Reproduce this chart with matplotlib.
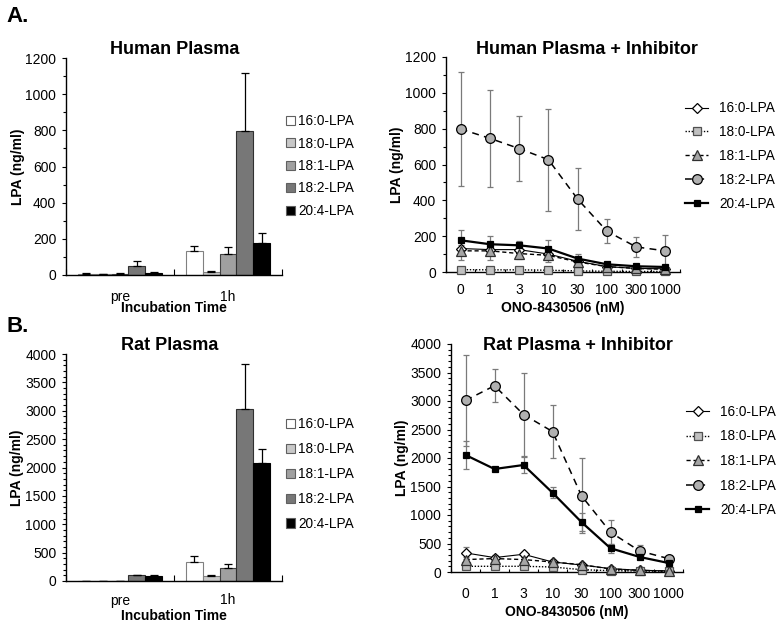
import matplotlib
matplotlib.use("Agg")
import matplotlib.pyplot as plt
from matplotlib.ticker import MultipleLocator, FixedLocator, NullFormatter
from matplotlib.lines import Line2D
from matplotlib.patches import Patch
import numpy as np

plt.rcParams['font.family'] = ['Liberation Sans', 'DejaVu Sans']

species = ['16:0-LPA', '18:0-LPA', '18:1-LPA', '18:2-LPA', '20:4-LPA']
time_labels = ['pre', '1h']
conc_labels = ['0', '1', '3', '10', '30', '100', '300', '1000']

# Bar charts: values [pre, 1h] per species
human_pre = [4, 3, 7, 50, 12]
human_pre_err = [5, 3, 3, 28, 4]
human_1h = [134, 16, 115, 798, 178]
human_1h_err = [29, 4, 42, 317, 53]

rat_pre = [3, 2, 3, 100, 88]
rat_pre_err = [2, 2, 2, 10, 15]
rat_1h = [340, 90, 230, 3036, 2074]
rat_1h_err = [100, 15, 70, 793, 247]

# Inhibitor curves
h16_0 = [131, 125, 125, 100, 60, 30, 20, 18]
h16_0_err = [20, 20, 20, 20, 15, 8, 5, 5]
h18_0 = [13, 12, 12, 10, 6, 4, 3, 3]
h18_0_err = [3, 2, 2, 2, 2, 1, 1, 1]
h18_1 = [118, 118, 103, 93, 56, 30, 20, 15]
h18_1_err = [49, 50, 30, 38, 20, 8, 5, 5]
h18_2 = [798, 746, 689, 627, 407, 228, 140, 118]
h18_2_err = [319, 272, 183, 284, 174, 66, 56, 87]
h20_4 = [177, 155, 149, 131, 75, 43, 32, 28]
h20_4_err = [56, 45, 25, 50, 28, 8, 6, 5]

r16_0 = [335, 253, 311, 176, 123, 59, 30, 20]
r16_0_err = [105, 40, 40, 30, 20, 10, 5, 5]
r18_0 = [100, 100, 100, 88, 41, 23, 18, 12]
r18_0_err = [20, 15, 15, 10, 5, 3, 3, 2]
r18_1 = [218, 236, 218, 176, 129, 53, 30, 15]
r18_1_err = [40, 40, 40, 30, 20, 10, 5, 5]
r18_2 = [3009, 3268, 2763, 2464, 1337, 699, 370, 235]
r18_2_err = [792, 285, 720, 465, 658, 205, 100, 30]
r20_4 = [2053, 1807, 1877, 1391, 875, 417, 264, 158]
r20_4_err = [250, 30, 140, 100, 160, 80, 30, 15]

W, H = 783, 627
fig = plt.figure(figsize=(W / 100, H / 100), dpi=100)


def add_ax(l, r, t, b):
    return fig.add_axes([l / W, 1 - b / H, (r - l) / W, (b - t) / H])


bar_colors = ['#ffffff', '#c8c8c8', '#a0a0a0', '#777777', '#000000']
bar_edges = ['#808080', '#808080', '#404040', '#303030', '#000000']

FS = 10
LFS = 9.8


def style_axes(ax, ymax, major, minor):
    for s in ['top', 'right']:
        ax.spines[s].set_visible(False)
    for s in ['left', 'bottom']:
        ax.spines[s].set_linewidth(1.0)
    ax.set_ylim(0, ymax)
    ax.yaxis.set_major_locator(MultipleLocator(major))
    ax.yaxis.set_minor_locator(MultipleLocator(minor))
    ax.tick_params(axis='y', which='major', direction='out', length=3, width=0.8,
                   labelsize=FS, pad=4)
    ax.tick_params(axis='y', which='minor', direction='out', length=2, width=0.8)


def bar_panel(ax, pre, pre_err, h1, h1_err, ymax, major, minor, title, tx, ty, legy, legsp,
              tpad, xlpad):
    n = len(species)
    w = 0.156
    x = np.arange(len(time_labels))
    for i in range(n):
        vals = [pre[i], h1[i]]
        errs = [pre_err[i], h1_err[i]]
        pos = x + (i - (n - 1) / 2) * w
        ax.bar(pos, vals, width=w, color=bar_colors[i], edgecolor=bar_edges[i],
               linewidth=0.8, label=species[i], zorder=2)
        ax.errorbar(pos, vals, yerr=[np.zeros(2), errs], fmt='none', ecolor='black',
                    elinewidth=0.9, capsize=3, capthick=0.9, zorder=3)
    ax.set_xlim(-0.5, 1.5)
    style_axes(ax, ymax, major, minor)
    ax.xaxis.set_major_locator(FixedLocator([-0.5, 0.5, 1.5]))
    ax.xaxis.set_major_formatter(NullFormatter())
    ax.xaxis.set_minor_locator(FixedLocator(x))
    ax.set_xticklabels(time_labels, minor=True)
    ax.tick_params(axis='x', which='major', direction='in', length=4, width=0.8)
    ax.tick_params(axis='x', which='minor', length=0, labelsize=FS, pad=tpad)
    ax.set_xlabel('Incubation Time', fontsize=FS, fontweight='bold', labelpad=xlpad)
    ax.set_ylabel('LPA (ng/ml)', fontsize=FS, fontweight='bold', labelpad=0.5)
    fig.text(tx / W, 1 - ty / H, title, fontsize=13, fontweight='bold', ha='center', va='center')
    handles = [Patch(facecolor=bar_colors[i], edgecolor='#606060', linewidth=0.8) for i in range(n)]
    fig.legend(handles, species, loc='center left', bbox_to_anchor=(286 / W, 1 - legy / H),
               frameon=False, fontsize=LFS, handlelength=0.65, handleheight=0.65,
               handletextpad=0.25, labelspacing=legsp, borderpad=0, borderaxespad=0)


line_specs = [
    dict(marker='D', mfc='white', mec='black', ms=5, color='black', lw=0.8, ls='-'),
    dict(marker='s', mfc='#c0c0c0', mec='#505050', ms=5.5, color='black', lw=1.0, ls=(0, (1, 1.2))),
    dict(marker='^', mfc='#a6a6a6', mec='#303030', ms=6.5, color='black', lw=1.0, ls=(0, (3, 2))),
    dict(marker='o', mfc='#b0b0b0', mec='black', ms=7, color='black', lw=1.1, ls=(0, (4.5, 3.5))),
    dict(marker='s', mfc='black', mec='black', ms=5, color='black', lw=1.6, ls='-'),
]


def line_panel(ax, series, errs, ymax, major, minor, title, tx, ty, legx, legy, legsp,
               tpad, xlpad):
    x = np.arange(len(conc_labels))
    for i, (vals, er) in enumerate(zip(series, errs)):
        sp = line_specs[i]
        ax.errorbar(x, vals, yerr=er, fmt='none', ecolor='#7a7a7a', elinewidth=0.9,
                    capsize=2.5, capthick=0.9, zorder=2 + i * 0.1)
        ax.plot(x, vals, color=sp['color'], lw=sp['lw'], ls=sp['ls'], marker=sp['marker'],
                mfc=sp['mfc'], mec=sp['mec'], ms=sp['ms'], mew=0.9, zorder=3 + i * 0.1,
                clip_on=False)
    ax.set_xlim(-0.5, len(conc_labels) - 0.5)
    style_axes(ax, ymax, major, minor)
    ax.xaxis.set_major_locator(FixedLocator(np.arange(len(conc_labels) + 1) - 0.5))
    ax.xaxis.set_major_formatter(NullFormatter())
    ax.xaxis.set_minor_locator(FixedLocator(x))
    ax.set_xticklabels(conc_labels, minor=True)
    ax.tick_params(axis='x', which='major', direction='in', length=2, width=0.8)
    ax.tick_params(axis='x', which='minor', length=0, labelsize=FS, pad=tpad)
    ax.set_xlabel('ONO-8430506 (nM)', fontsize=FS, fontweight='bold', labelpad=xlpad)
    ax.set_ylabel('LPA (ng/ml)', fontsize=FS, fontweight='bold', labelpad=0.8)
    fig.text(tx / W, 1 - ty / H, title, fontsize=13, fontweight='bold', ha='center', va='center')
    handles = []
    for sp in line_specs:
        handles.append(Line2D([], [], color=sp['color'], lw=sp['lw'], ls=sp['ls'],
                              marker=sp['marker'], mfc=sp['mfc'], mec=sp['mec'],
                              ms=sp['ms'], mew=0.9))
    fig.legend(handles, species, loc='center left', bbox_to_anchor=(legx / W, 1 - legy / H),
               frameon=False, fontsize=LFS, handlelength=1.7, handletextpad=0.8,
               labelspacing=legsp, borderpad=0, borderaxespad=0)


axA1 = add_ax(66, 282, 58, 275)
bar_panel(axA1, human_pre, human_pre_err, human_1h, human_1h_err, 1200, 200, 100,
          'Human Plasma', 175, 50, 166, 0.62, 11, -2)

axA2 = add_ax(446, 680, 57, 272)
line_panel(axA2, [h16_0, h18_0, h18_1, h18_2, h20_4],
           [h16_0_err, h18_0_err, h18_1_err, h18_2_err, h20_4_err],
           1200, 200, 100, 'Human Plasma + Inhibitor', 587, 49, 685, 156, 0.72, 8, 3)

axB1 = add_ax(66, 282, 354, 581)
bar_panel(axB1, rat_pre, rat_pre_err, rat_1h, rat_1h_err, 4000, 500, 100,
          'Rat Plasma', 170, 345, 474, 0.8, 9, 1)

axB2 = add_ax(451, 683, 344, 572)
line_panel(axB2, [r16_0, r18_0, r18_1, r18_2, r20_4],
           [r16_0_err, r18_0_err, r18_1_err, r18_2_err, r20_4_err],
           4000, 500, 100, 'Rat Plasma + Inhibitor', 578, 345, 686, 461, 0.78, 11, 3)

fig.text(6 / W, 1 - 16 / H, 'A.', fontsize=16, fontweight='bold', ha='left', va='center')
fig.text(6 / W, 1 - 326 / H, 'B.', fontsize=16, fontweight='bold', ha='left', va='center')

fig.savefig('out.png', dpi=100)
